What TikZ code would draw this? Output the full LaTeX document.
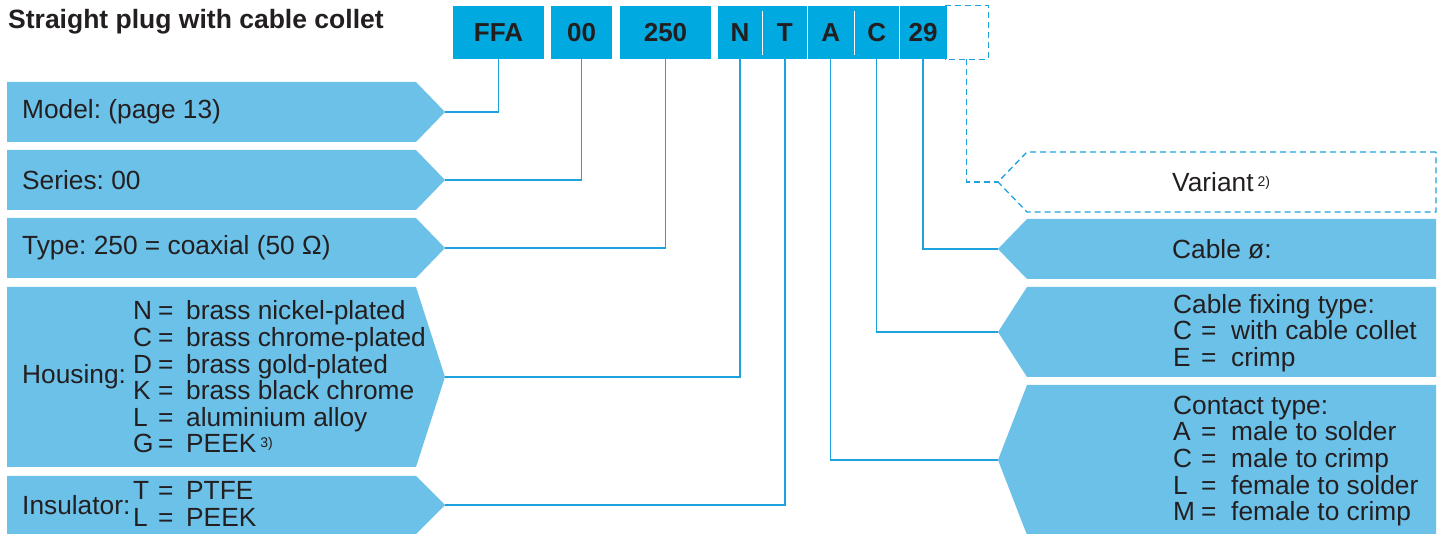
\documentclass[tikz,border=0pt]{standalone}
\usepackage{fontspec}
\setmainfont{Liberation Sans}
\usetikzlibrary{positioning}
\definecolor{codeblue}{RGB}{0,169,224}
\definecolor{tagblue}{RGB}{108,193,233}
\definecolor{lineblue}{RGB}{30,162,219}
\definecolor{ink}{RGB}{35,31,32}
\newcommand\lopt[2]{\makebox[25pt][l]{#1}\makebox[28pt][l]{=}#2}
\newcommand\ropt[2]{\makebox[28pt][l]{#1}\makebox[30pt][l]{=}#2}
\newcommand\fnote[1]{\hspace{4pt}\raisebox{5pt}{\fontsize{14}{14}\selectfont #1}}
\frenchspacing

\begin{document}
\begin{tikzpicture}[x=1pt,y=-1pt,
  tag/.style={fill=tagblue},
  codebox/.style={fill=codeblue, inner sep=0pt, minimum height=53pt, text=ink,
    font=\bfseries\fontsize{26}{26}\selectfont},
  lbl/.style={inner sep=0pt, anchor=west, align=left, text=ink,
    font=\fontsize{26.3}{26.6}\selectfont},
  link/.style={draw=lineblue, line width=1.3pt},
  dlink/.style={link, dash pattern=on 6pt off 4pt}]
\useasboundingbox (0,0) rectangle (1441,534);
\node[lbl, anchor=base west, font=\bfseries\fontsize{26.5}{26.5}\selectfont] (ttl) at (8,29) {Straight plug with cable collet};
% ordering code
\node[inner sep=0pt, minimum width=43pt, minimum height=53pt] (var) at (966.5,32.5) {};
\draw[dlink] (var.north west) -| (var.south east) -- (var.south west);
\node[codebox, minimum width=91pt] (ffa) at (498.5,32.5) {FFA};
\node[codebox, minimum width=61pt] (ser) at (581.5,32.5) {00};
\node[codebox, minimum width=91pt] (typ) at (665.5,32.5) {250};
\node[codebox, minimum width=44pt] (hsg) at (740,32.5) {N};
\node[codebox, minimum width=45pt, right=0pt of hsg] (ins) {T};
\node[codebox, minimum width=46pt, right=0pt of ins] (cnt) {A};
\node[codebox, minimum width=45pt, right=0pt of cnt] (fix) {C};
\node[codebox, minimum width=47pt, right=0pt of fix] (cab) {29};
\foreach \a in {hsg,ins,cnt,fix}
  \draw[white, line width=0.8pt] ([yshift=-5pt]\a.north east) -- ([yshift=4pt]\a.south east);
% left tags
\fill[tag] (7,82) -- (416,82) -- (445,112) coordinate (mdlp) -- (416,142) -- (7,142) -- cycle;
\fill[tag] (7,150) -- (416,150) -- (445,180) coordinate (serp) -- (416,210) -- (7,210) -- cycle;
\fill[tag] (7,218) -- (416,218) -- (445,248) coordinate (typp) -- (416,278) -- (7,278) -- cycle;
\fill[tag] (7,287) -- (416,287) -- (445,377) coordinate (hsgp) -- (416,467) -- (7,467) -- cycle;
\fill[tag] (7,476) -- (416,476) -- (445,505) coordinate (insp) -- (416,534) -- (7,534) -- cycle;
% right tags
\draw[dlink, fill=white] (1436,152) -- (1027,152) -- (998,182) coordinate (varp) -- (1027,212) -- (1436,212) -- cycle;
\fill[tag] (1436,219) -- (1027,219) -- (998,249) coordinate (cabp) -- (1027,279) -- (1436,279) -- cycle;
\fill[tag] (1436,287) -- (1027,287) -- (998,332) coordinate (fixp) -- (1027,377) -- (1436,377) -- cycle;
\fill[tag] (1436,385) -- (1027,385) -- (998,460) coordinate (cntp) -- (1027,535) -- (1436,535) -- cycle;
% connectors
\draw[link] (mdlp) -| (ffa.south);
\draw[link] (serp) -| (ser.south);
\draw[link] (typp) -| (typ.south);
\draw[link] (hsgp) -| (hsg.south);
\draw[link] (insp) -| (ins.south);
\draw[link] (cnt.south) |- (cntp);
\draw[link] (fix.south) |- (fixp);
\draw[link] (cab.south) |- (cabp);
\draw[dlink] (var.south) |- (varp);
% texts
\node[lbl] (mdlt) at (22,112) {Model: (page 13)};
\node[lbl] (sert) at (22,180) {Series: 00};
\node[lbl] (typt) at (22,248) {Type: 250 = coaxial (50 Ω)};
\node[lbl] (hsgt) at (22,377) {Housing:};
\node[lbl] (hsgl) at (133,377) {\lopt{N}{brass nickel-plated}\\\lopt{C}{brass chrome-plated}\\
  \lopt{D}{brass gold-plated}\\\lopt{K}{brass black chrome}\\\lopt{L}{aluminium alloy}\\\lopt{G}{PEEK\fnote{3)}}};
\node[lbl] (inst) at (22,505) {Insulator:};
\node[lbl] (insl) at (133,504) {\lopt{T}{PTFE}\\\lopt{L}{PEEK}};
\node[lbl] (vart) at (1172,182) {Variant\fnote{2)}};
\node[lbl] (cabt) at (1172,249) {Cable ø:};
\node[lbl] (fixt) at (1173,333) {Cable fixing type:\\\ropt{C}{with cable collet}\\\ropt{E}{crimp}};
\node[lbl] (cntt) at (1173,461) {Contact type:\\\ropt{A}{male to solder}\\\ropt{C}{male to crimp}\\
  \ropt{L}{female to solder}\\\ropt{M}{female to crimp}};
\end{tikzpicture}
\end{document}
